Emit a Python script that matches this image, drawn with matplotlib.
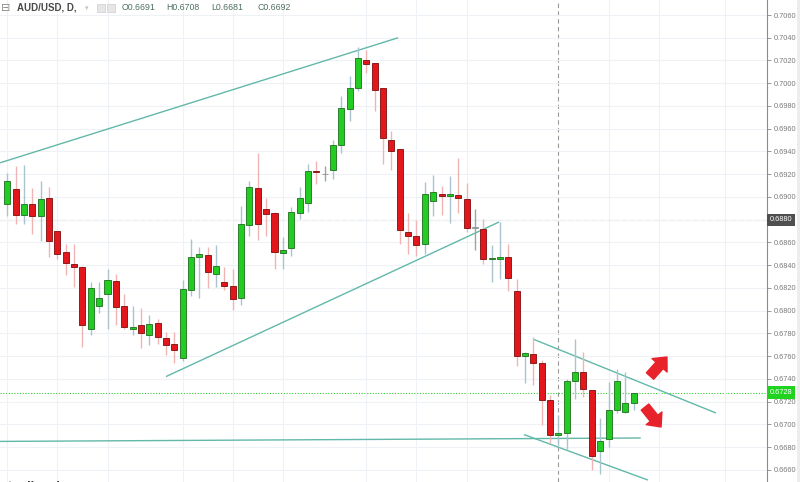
import matplotlib
matplotlib.use('Agg')
import matplotlib.pyplot as plt
import matplotlib.transforms as mtransforms
from matplotlib.patches import Rectangle

# ---------------- data ----------------
opens = [0.6894, 0.6907, 0.6884, 0.6894, 0.6883, 0.6899, 0.6870, 0.6852, 0.6841, 0.6838,
         0.6784, 0.6804, 0.6815, 0.6826, 0.6804, 0.6784, 0.6787, 0.6779, 0.6789, 0.6776,
         0.6771, 0.6758, 0.6818, 0.6847, 0.6849, 0.6832, 0.6825, 0.6822, 0.6811, 0.6875,
         0.6908, 0.6889, 0.6886, 0.6851, 0.6855, 0.6886, 0.6895, 0.6923, 0.6920, 0.6924,
         0.6946, 0.6977, 0.6996, 0.7020, 0.7018, 0.6996, 0.6950, 0.6942, 0.6869, 0.6866,
         0.6859, 0.6896, 0.6903, 0.6901, 0.6902, 0.6898, 0.6873, 0.6872, 0.6845, 0.6845,
         0.6847, 0.6817, 0.6760, 0.6762, 0.6754, 0.6721, 0.6691, 0.6692, 0.6738, 0.6746,
         0.6730, 0.6677, 0.6687, 0.6713, 0.6711, 0.6719]
highs = [0.6921, 0.6927, 0.6928, 0.6908, 0.6914, 0.6909, 0.6870, 0.6859, 0.6859, 0.6839,
         0.6825, 0.6825, 0.6837, 0.6832, 0.6815, 0.6804, 0.6802, 0.6796, 0.6793, 0.6781,
         0.6781, 0.6827, 0.6863, 0.6856, 0.6856, 0.6858, 0.6838, 0.6837, 0.6892, 0.6914,
         0.6939, 0.6899, 0.6887, 0.6865, 0.6891, 0.6909, 0.6929, 0.6932, 0.6927, 0.6950,
         0.6989, 0.7006, 0.7032, 0.7029, 0.7018, 0.6996, 0.6958, 0.6942, 0.6886, 0.6880,
         0.6913, 0.6919, 0.6910, 0.6918, 0.6934, 0.6912, 0.6889, 0.6881, 0.6858, 0.6878,
         0.6859, 0.6828, 0.6764, 0.6777, 0.6757, 0.6726, 0.6708, 0.6740, 0.6775, 0.6764,
         0.6730, 0.6706, 0.6737, 0.6749, 0.6746, 0.6728]
lows = [0.6883, 0.6876, 0.6876, 0.6867, 0.6861, 0.6847, 0.6845, 0.6831, 0.6821, 0.6768,
        0.6779, 0.6798, 0.6784, 0.6787, 0.6784, 0.6779, 0.6767, 0.6770, 0.6771, 0.6761,
        0.6754, 0.6756, 0.6813, 0.6811, 0.6820, 0.6821, 0.6818, 0.6801, 0.6805, 0.6866,
        0.6862, 0.6866, 0.6837, 0.6837, 0.6848, 0.6881, 0.6887, 0.6911, 0.6914, 0.6916,
        0.6939, 0.6967, 0.6993, 0.7009, 0.6976, 0.6929, 0.6924, 0.6859, 0.6850, 0.6848,
        0.6850, 0.6883, 0.6884, 0.6877, 0.6886, 0.6869, 0.6853, 0.6841, 0.6825, 0.6828,
        0.6817, 0.6751, 0.6736, 0.6735, 0.6699, 0.6684, 0.6681, 0.6678, 0.6722, 0.6724,
        0.6660, 0.6656, 0.6680, 0.6710, 0.6710, 0.6713]
closes = [0.6914, 0.6884, 0.6894, 0.6883, 0.6898, 0.6861, 0.6850, 0.6842, 0.6838, 0.6787,
          0.6820, 0.6811, 0.6827, 0.6803, 0.6786, 0.6786, 0.6780, 0.6788, 0.6777, 0.6770,
          0.6765, 0.6819, 0.6847, 0.6850, 0.6834, 0.6839, 0.6822, 0.6810, 0.6876, 0.6909,
          0.6876, 0.6885, 0.6852, 0.6853, 0.6887, 0.6899, 0.6923, 0.6922, 0.6920, 0.6946,
          0.6978, 0.6996, 0.7022, 0.7017, 0.6994, 0.6952, 0.6940, 0.6871, 0.6866, 0.6858,
          0.6903, 0.6904, 0.6901, 0.6903, 0.6899, 0.6873, 0.6873, 0.6845, 0.6846, 0.6847,
          0.6829, 0.6760, 0.6763, 0.6754, 0.6721, 0.6691, 0.6692, 0.6738, 0.6746, 0.6731,
          0.6672, 0.6685, 0.6713, 0.6738, 0.6719, 0.6728]

price_ticks = [0.6660, 0.6680, 0.6700, 0.6720, 0.6740, 0.6760, 0.6780, 0.6800, 0.6820,
               0.6840, 0.6860, 0.6880, 0.6900, 0.6920, 0.6940, 0.6960, 0.6980, 0.7000,
               0.7020, 0.7040, 0.7060]
grid_index = [0, 6, 12, 21, 27, 33, 43, 49, 55, 72, 78, 86]

symbol_label = "AUD/USD, D,"
ohlc_labels = ["O0.6691", "H0.6708", "L0.6681", "C0.6692"]
last_price = 0.6728
cross_price = 0.6880
cross_index = 66

# trend lines: (candle index, price) endpoints
trend_x = [[-0.87, 46.8], [19.0, 58.9], [62.96, 84.87], [61.88, 76.73], [-0.87, 75.86]]
trend_y = [[0.6930, 0.7040], [0.6742, 0.6878], [0.6775, 0.6710], [0.6691, 0.6651], [0.6685, 0.6688]]

# red arrows: tail -> head (candle index, price)
arrow_tail = [(76.97, 0.67425), (76.37, 0.67152)]
arrow_head = [(79.0, 0.67592), (78.29, 0.66977)]

# ---------------- styling ----------------
W, H = 800, 482
GREEN = '#22cc22'
GREEN_EDGE = '#1c6e1c'
RED = '#e3161b'
RED_EDGE = '#7d0c0c'
GREEN_WICK = '#aac3cc'
RED_WICK = '#f0b4b4'
DOJI = '#9aa5a5'
TREND = '#62b8a9'

plt.rcParams['font.family'] = ['Liberation Sans', 'DejaVu Sans']

fig = plt.figure(figsize=(W / 100, H / 100), dpi=100)
fig.patch.set_facecolor('white')
ax = fig.add_axes([0, 0, 767 / W, 1])
ax.set_facecolor('white')

ax.set_xlim(-0.874, 90.98)
ax.set_ylim(0.66493, 0.70732)

# grid
ax.set_xticks(grid_index)
ax.set_yticks(price_ticks)
ax.grid(True, color='#eef1f5', lw=0.8, zorder=0)
ax.tick_params(axis='x', length=0, labelbottom=False)
ax.yaxis.tick_right()
ax.tick_params(axis='y', direction='out', length=3, width=0.6, color='#8c8c8c',
               labelsize=5.3, labelcolor='#7a7a7a', pad=1.5)
# the crosshair price box covers the tick label at the crosshair level
ax.set_yticklabels(["" if abs(p - cross_price) < 1e-6 else f"{p:.4f}" for p in price_ticks])
for s in ['top', 'left', 'bottom']:
    ax.spines[s].set_visible(False)
ax.spines['right'].set_color('#8c8c8c')
ax.spines['right'].set_linewidth(0.8)

# crosshair
ax.axhline(cross_price, color='#9a9a9a', lw=0.8, ls=(0, (4, 3)), zorder=1)
ax.axvline(cross_index, color='#9a9a9a', lw=0.8, ls=(0, (4, 3)), zorder=1)
# last price dotted line
ax.axhline(last_price, color='#33cc33', lw=0.8, ls=(0, (1, 1.5)), zorder=1)

# trend lines
for xs, ys in zip(trend_x, trend_y):
    ax.plot(xs, ys, color=TREND, lw=1.0, zorder=2, solid_capstyle='butt')

# candles
min_h = 0.000045
for i, (o, h, l, c) in enumerate(zip(opens, highs, lows, closes)):
    up = c >= o
    doji = abs(c - o) < 0.00005
    if doji:
        wick = DOJI
        fill = '#a8b0ae'
        edge = '#8c9694'
    elif up:
        wick, fill, edge = GREEN_WICK, GREEN, GREEN_EDGE
    else:
        wick, fill, edge = RED_WICK, RED, RED_EDGE
    ax.vlines(i, l, h, color=wick, lw=1.0, zorder=3)
    bot = min(o, c)
    hgt = max(abs(c - o), min_h)
    ax.bar(i, hgt, bottom=bot, width=0.72, color=fill, edgecolor=edge,
           linewidth=0.6, zorder=4)

# arrows
for t, hd in zip(arrow_tail, arrow_head):
    ax.annotate('', xy=hd, xytext=t,
                arrowprops=dict(arrowstyle='simple,head_length=0.8,head_width=1.45,tail_width=0.7',
                                color='#e8222a', shrinkA=0, shrinkB=0, mutation_scale=10),
                zorder=5)

# price labels on the axis
trans = mtransforms.blended_transform_factory(ax.transAxes, ax.transData)
ax.text(1.004, cross_price, f"{cross_price:.4f}", transform=trans, ha='left', va='center',
        fontsize=5.3, color='white', clip_on=False, zorder=6,
        bbox=dict(boxstyle='square,pad=0.35', fc='#4f4f4f', ec='none'))
ax.text(1.004, last_price, f"{last_price:.4f}", transform=trans, ha='left', va='center',
        fontsize=5.3, color='white', clip_on=False, zorder=6,
        bbox=dict(boxstyle='square,pad=0.35', fc='#1fd31f', ec='none'))

# right-edge strip
fig.patches.append(Rectangle((797 / W, 0), 3 / W, 1, transform=fig.transFigure,
                             fc='#ededed', ec='none', zorder=0))

# header
def fx(px):
    return px / W

def fy(py):
    return 1 - py / H

fig.text(fx(1), fy(8), '\u229f', fontsize=8, color='#8a8a8a', va='center', ha='left',
         family=['DejaVu Sans'])
fig.text(fx(17), fy(8), symbol_label, fontsize=7, color='#4a4a4a', va='center', ha='left',
         weight='bold')
fig.text(fx(85), fy(8), '\u25be', fontsize=5, color='#c0c0c0', va='center', ha='left',
         family=['DejaVu Sans'])
for xx in (97, 107):
    fig.patches.append(Rectangle((fx(xx), fy(12)), 8 / W, 8 / H, transform=fig.transFigure,
                                 fc='#e6e6e6', ec='#d4d4d4', lw=0.6))
for lbl, xx in zip(ohlc_labels, [122, 166, 211, 257]):
    fig.text(fx(xx), fy(8), lbl, fontsize=6.3, color='#4d6f62', va='center', ha='left')

# watermark fragment at the bottom-left (cut by the frame, as in the reference)
fig.text(fx(8), fy(487), 'tradingview', fontsize=9, color='#333333', va='center', ha='left',
         weight='bold')

fig.savefig('out.png', dpi=100, facecolor='white')
